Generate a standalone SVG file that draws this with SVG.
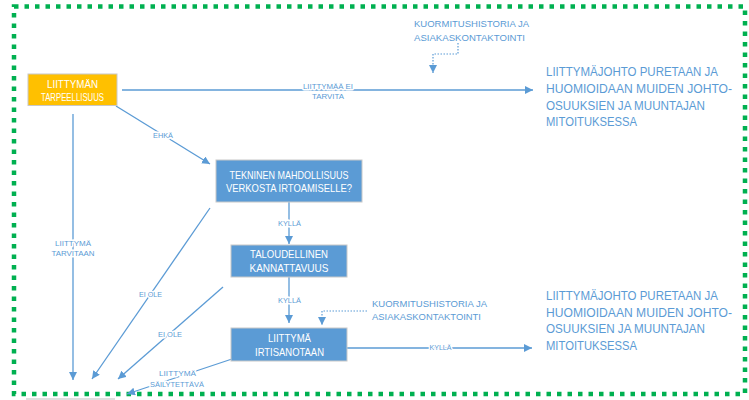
<svg xmlns="http://www.w3.org/2000/svg" width="749" height="400" viewBox="0 0 749 400">
<defs>
<marker id="ah" markerUnits="userSpaceOnUse" markerWidth="9" markerHeight="9" refX="8" refY="4" orient="auto"><path d="M0,0 L8,4 L0,8 z" fill="#5B9BD5"/></marker>
<style>
.bx{stroke:#c8c8c8;stroke-width:1}
.bt{font-family:"Liberation Sans",Arial,sans-serif;font-size:10.5px;fill:#ffffff;text-anchor:middle}
.ln{fill:none;stroke:#5B9BD5;stroke-width:1.3}
.dl{fill:none;stroke:#5B9BD5;stroke-width:1.2;stroke-dasharray:1.5 1.5}
.lb{font-family:"Liberation Sans",Arial,sans-serif;font-size:7.5px;fill:#5B9BD5;text-anchor:middle;stroke:#ffffff;stroke-width:3;paint-order:stroke;stroke-linejoin:round}
.sm{font-family:"Liberation Sans",Arial,sans-serif;font-size:9px;fill:#5B9BD5}
.rt{font-family:"Liberation Sans",Arial,sans-serif;font-size:12.5px;fill:#5B9BD5}
</style>
</defs>
<rect width="749" height="400" fill="#ffffff"/>
<rect x="14" y="6.5" width="731" height="387.5" fill="none" stroke="#00B050" stroke-width="4.5" stroke-dasharray="4.5 6"/>
<line x1="26" y1="399" x2="115" y2="399" stroke="#bfbfbf" stroke-width="1"/>

<g id="connectors">
<path class="ln" d="M122,90 H533" marker-end="url(#ah)"/>
<path class="ln" d="M116,106 L210,164" marker-end="url(#ah)"/>
<path class="ln" d="M73,114 V380" marker-end="url(#ah)"/>
<path class="ln" d="M289,202 V244" marker-end="url(#ah)"/>
<path class="ln" d="M289,277 V323" marker-end="url(#ah)"/>
<path class="ln" d="M347,348 H532" marker-end="url(#ah)"/>
<path class="ln" d="M210,208 L92,379" marker-end="url(#ah)"/>
<path class="ln" d="M223,287 L118,379" marker-end="url(#ah)"/>
<path class="ln" d="M232,359 L127,394" marker-end="url(#ah)"/>
<path class="dl" d="M458,43 V54 H433 V73" marker-end="url(#ah)"/>
<path class="dl" d="M367,311 H322 V325" marker-end="url(#ah)"/>
<text class="lb"><tspan x="328" y="88.5" textLength="50" lengthAdjust="spacingAndGlyphs">LIITTYMÄÄ EI</tspan><tspan x="328" y="99" textLength="32" lengthAdjust="spacingAndGlyphs">TARVITA</tspan></text>
<text class="lb" x="163" y="137.5" textLength="20" lengthAdjust="spacingAndGlyphs">EHKÄ</text>
<text class="lb" x="289.5" y="226" textLength="23" lengthAdjust="spacingAndGlyphs">KYLLÄ</text>
<text class="lb" x="289.5" y="303" textLength="23" lengthAdjust="spacingAndGlyphs">KYLLÄ</text>
<text class="lb" x="440.5" y="350" textLength="22" lengthAdjust="spacingAndGlyphs">KYLLÄ</text>
<text class="lb"><tspan x="73" y="245.5" textLength="36" lengthAdjust="spacingAndGlyphs">LIITTYMÄ</tspan><tspan x="73" y="256" textLength="43" lengthAdjust="spacingAndGlyphs">TARVITAAN</tspan></text>
<text class="lb" x="150.5" y="297" textLength="23" lengthAdjust="spacingAndGlyphs">EI OLE</text>
<text class="lb" x="170" y="337" textLength="24" lengthAdjust="spacingAndGlyphs">EI OLE</text>
<text class="lb"><tspan x="177.5" y="376" textLength="37" lengthAdjust="spacingAndGlyphs">LIITTYMÄ</tspan><tspan x="177" y="387" textLength="54" lengthAdjust="spacingAndGlyphs">SÄILYTETTÄVÄ</tspan></text>
</g>

<g id="node-tarpeellisuus">
<rect class="bx" x="28" y="74" width="89" height="31.5" fill="#FFC000"/>
<text class="bt"><tspan x="72.5" y="88" textLength="51" lengthAdjust="spacingAndGlyphs">LIITTYMÄN</tspan><tspan x="72.5" y="101" textLength="63" lengthAdjust="spacingAndGlyphs">TARPEELLISUUS</tspan></text>
</g>

<g id="node-tekninen">
<rect class="bx" x="216" y="160" width="146" height="42" fill="#5B9BD5"/>
<text class="bt"><tspan x="289" y="179" textLength="119" lengthAdjust="spacingAndGlyphs">TEKNINEN MAHDOLLISUUS</tspan><tspan x="289" y="192" textLength="126" lengthAdjust="spacingAndGlyphs">VERKOSTA IRTOAMISELLE?</tspan></text>
</g>

<g id="node-taloudellinen">
<rect class="bx" x="231" y="245" width="116" height="32" fill="#5B9BD5"/>
<text class="bt"><tspan x="289" y="257.5" textLength="78" lengthAdjust="spacingAndGlyphs">TALOUDELLINEN</tspan><tspan x="289" y="271.5" textLength="79" lengthAdjust="spacingAndGlyphs">KANNATTAVUUS</tspan></text>
</g>

<g id="node-irtisanotaan">
<rect class="bx" x="231" y="328" width="116" height="33" fill="#5B9BD5"/>
<text class="bt"><tspan x="289.5" y="342" textLength="43" lengthAdjust="spacingAndGlyphs">LIITTYMÄ</tspan><tspan x="289.5" y="356" textLength="69" lengthAdjust="spacingAndGlyphs">IRTISANOTAAN</tspan></text>
</g>

<g id="note-kuormitus-1">
<text class="sm"><tspan x="414" y="26.7" textLength="115" lengthAdjust="spacingAndGlyphs">KUORMITUSHISTORIA JA</tspan><tspan x="414" y="40.7" textLength="111" lengthAdjust="spacingAndGlyphs">ASIAKASKONTAKTOINTI</tspan></text>
</g>

<g id="note-kuormitus-2">
<text class="sm"><tspan x="372" y="306.7" textLength="115" lengthAdjust="spacingAndGlyphs">KUORMITUSHISTORIA JA</tspan><tspan x="372" y="320" textLength="109" lengthAdjust="spacingAndGlyphs">ASIAKASKONTAKTOINTI</tspan></text>
</g>

<g id="result-1">
<text class="rt"><tspan x="546" y="76" textLength="172" lengthAdjust="spacingAndGlyphs">LIITTYMÄJOHTO PURETAAN JA</tspan><tspan x="546" y="93" textLength="186" lengthAdjust="spacingAndGlyphs">HUOMIOIDAAN MUIDEN JOHTO-</tspan><tspan x="546" y="110" textLength="159" lengthAdjust="spacingAndGlyphs">OSUUKSIEN JA MUUNTAJAN</tspan><tspan x="546" y="126" textLength="91" lengthAdjust="spacingAndGlyphs">MITOITUKSESSA</tspan></text>
</g>

<g id="result-2">
<text class="rt"><tspan x="546" y="300" textLength="172" lengthAdjust="spacingAndGlyphs">LIITTYMÄJOHTO PURETAAN JA</tspan><tspan x="546" y="317" textLength="186" lengthAdjust="spacingAndGlyphs">HUOMIOIDAAN MUIDEN JOHTO-</tspan><tspan x="546" y="333" textLength="159" lengthAdjust="spacingAndGlyphs">OSUUKSIEN JA MUUNTAJAN</tspan><tspan x="546" y="350" textLength="91" lengthAdjust="spacingAndGlyphs">MITOITUKSESSA</tspan></text>
</g>
</svg>
